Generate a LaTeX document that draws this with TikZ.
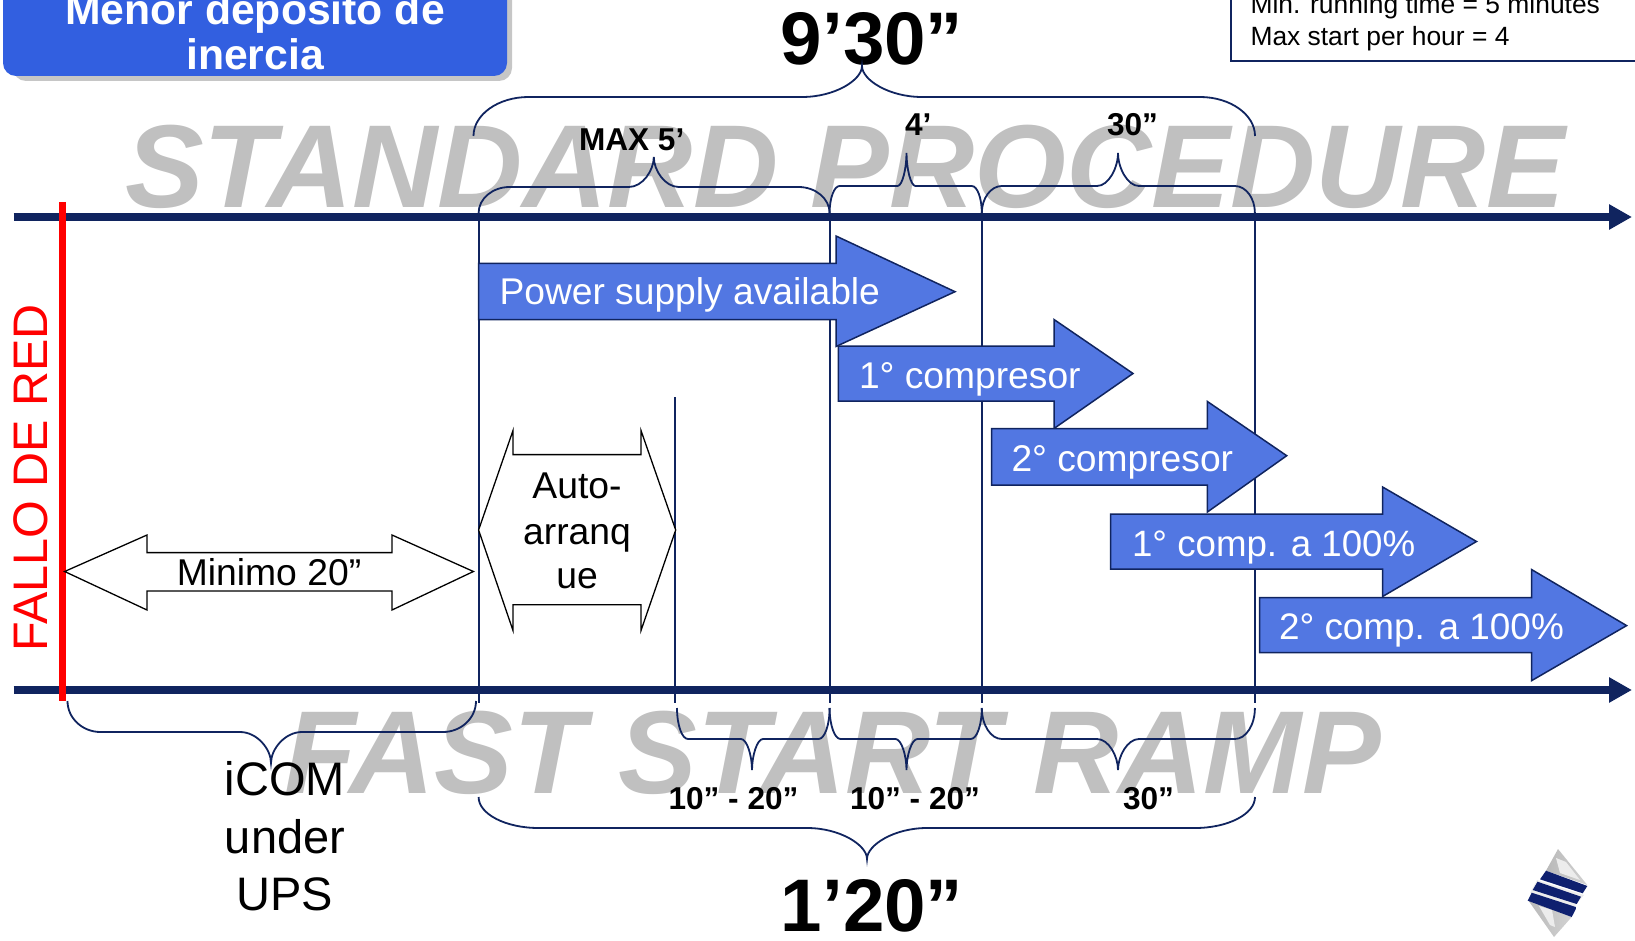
\documentclass[tikz,border=0pt]{standalone}
\usepackage{fontspec}
\setmainfont{Liberation Sans}
\usetikzlibrary{arrows.meta}
\definecolor{navy}{HTML}{10245F}
\definecolor{arrowblue}{HTML}{5277E2}
\definecolor{boxblue}{HTML}{325FE0}
\definecolor{wm}{HTML}{C0C0C0}
\newcommand{\fsz}[1]{\fontsize{#1}{#1}\selectfont}
\tikzset{
  txt/.style={inner sep=0pt,outer sep=0pt},
  lab/.style={txt,anchor=base west,font=\fsz{31.6}\bfseries},
  bigtot/.style={txt,anchor=base,font=\fsz{74.5}\bfseries},
  water/.style={txt,anchor=base west,text=wm,font=\fsz{118}\bfseries\itshape},
  arrowtext/.style={txt,anchor=base west,text=white,font=\fsz{37.2}},
  plaintxt/.style={txt,anchor=base,font=\fsz{37.3}},
  ups/.style={txt,anchor=base,font=\fsz{47}},
  axisline/.style={navy,line width=8.5pt,-{Triangle[length=23pt,width=24pt]}},
  guide/.style={navy,line width=1.8pt},
  blockarr/.style={fill=arrowblue,draw=navy,line width=1.5pt,line join=miter},
  outlined/.style={fill=white,draw=black,line width=1.3pt,line join=miter},
  logoband/.style={left color=navy!90!blue,middle color=blue!35!gray,right color=navy!90!blue},
  logogrey/.style={left color=gray!55,right color=gray!35},
}
% #1 left, #2 right, #3 middle, #4 base y, #5 flat y, #6 peak y, #7 corner r, #8 peak r
\newcommand{\mybrace}[8]{%
  \draw[guide] (#1,#4) .. controls (#1,{#4+0.55*(#5-#4)}) and ({#1+0.45*#7},#5) .. ({#1+#7},#5)
   -- ({#3-#8},#5) .. controls ({#3-0.45*#8},#5) and (#3,{#6+0.45*(#5-#6)}) .. (#3,#6)
   .. controls (#3,{#6+0.45*(#5-#6)}) and ({#3+0.45*#8},#5) .. ({#3+#8},#5)
   -- ({#2-#7},#5) .. controls ({#2-0.45*#7},#5) and (#2,{#4+0.55*(#5-#4)}) .. (#2,#4);}
% block arrow: #1 left, #2 head x, #3 tip x, #4 tip y, #5 head top, #6 head bottom, #7 body top, #8 body bottom
\newcommand{\blockarrow}[8]{%
  \draw[blockarr] (#1,#7) -- (#2,#7) -- (#2,#5) -- (#3,#4) -- (#2,#6) -- (#2,#8) -- (#1,#8) -- cycle;}
\begin{document}
\begin{tikzpicture}[x=1pt,y=-1pt]
\useasboundingbox (0,0) rectangle (1635,941);
\clip (0,0) rectangle (1635,941);

% watermarks
\node[water] (wmtop) at (125,208) {STANDARD PROCEDURE};
\node[water] (wmbot) at (284,793) {FAST START RAMP};

% title box
\fill[gray!45,rounded corners=13pt] (13,-30) rectangle (512,81);
\fill[boxblue,rounded corners=13pt] (3,-30) rectangle (507,76);
\node[txt,anchor=base,text=white,font=\fsz{42.7}\bfseries] (t1) at (255,25) {Menor depósito de};
\node[txt,anchor=base,text=white,font=\fsz{42.7}\bfseries] (t2) at (255,70) {inercia};

% info box
\draw[navy,line width=1.8pt] (1231,-20) -- (1231,61) -- (1660,61);
\node[txt,anchor=base west,font=\fsz{26.4}] (i1) at (1250.5,14) {Min. running time = 5 minutes};
\node[txt,anchor=base west,font=\fsz{26.4}] (i2) at (1250.5,46) {Max start per hour = 4};

% totals
\node[bigtot] (tot1) at (872,65) {9’30”};
\node[bigtot] (tot2) at (872,931) {1’20”};

% vertical guides
\draw[guide] (478.6,213) -- (478.6,703);
\draw[guide] (829.6,213) -- (829.6,703);
\draw[guide] (981.8,213) -- (981.8,703);
\draw[guide] (1254.9,213) -- (1254.9,703);
\draw[guide] (675,397) -- (675,703);

% axes
\coordinate (a1s) at (13.5,217); \coordinate (a1e) at (1632,217);
\coordinate (a2s) at (13.5,690); \coordinate (a2e) at (1632,690);
\draw[axisline] (a1s) -- (a1e);
\draw[axisline] (a2s) -- (a2e);
\draw[red,line width=7pt] (62,202) -- (62,701);

\node[txt,anchor=base,rotate=90,text=red,font=\fsz{48.5}] (fallo) at (47,478) {FALLO DE RED};

% top braces
\mybrace{473.5}{1255}{862}{136}{97}{66}{55}{60}
\mybrace{478.6}{829.6}{653.8}{213}{187}{157}{31}{25}
\mybrace{829.6}{981.8}{906.5}{213}{186}{153}{10}{9}
\mybrace{981.8}{1254.9}{1118}{213}{186}{153}{20}{21}
% bottom braces
\mybrace{67.5}{476}{271}{701}{732}{763}{33}{31}
\mybrace{677}{829.6}{752}{708}{739}{770}{11}{11}
\mybrace{829.6}{981.8}{906.5}{708}{739}{770}{11}{11}
\mybrace{981.8}{1254.9}{1118}{708}{739}{770}{20}{21}
\mybrace{478.6}{1255}{867}{797}{828}{859}{60}{60}

% labels
\node[lab] (l1) at (579,151) {MAX 5’};
\node[lab] (l2) at (905,136) {4’};
\node[lab] (l3) at (1107,136) {30”};
\node[lab] (l4) at (668.5,809) {10” - 20”};
\node[lab] (l5) at (850,809) {10” - 20”};
\node[lab] (l6) at (1123,809) {30”};
\node[ups] (u1) at (285,795) {iCOM};
\node[ups] (u2) at (285,853) {under};
\node[ups] (u3) at (285,910) {UPS};

% block arrows
\blockarrow{478.6}{836}{955}{291.7}{236}{346.5}{263.5}{319.5}
\blockarrow{838.3}{1054}{1133}{373.5}{319.5}{428.5}{346}{401}
\blockarrow{991.6}{1207.4}{1286.7}{455.7}{401.5}{512}{428.5}{485}
\blockarrow{1110.5}{1382.6}{1476.5}{541.5}{487}{596.5}{514}{569}
\blockarrow{1259.6}{1531.5}{1626.6}{625.6}{569.5}{680.7}{597.5}{652.7}
\node[arrowtext] (b1) at (499.5,304) {Power supply available};
\node[arrowtext] (b2) at (859,388) {1° compresor};
\node[arrowtext] (b3) at (1011.5,471) {2° compresor};
\node[arrowtext,font=\fsz{36.7}] (b4) at (1132,556) {1° comp. a 100\%};
\node[arrowtext,font=\fsz{36.9}] (b5) at (1279,639) {2° comp. a 100\%};

% double arrows
\draw[outlined] (64.6,571.5) -- (147,535) -- (147,552.6) -- (392,552.6) -- (392,535) -- (473.4,571.5) -- (392,610) -- (392,591) -- (147,591) -- (147,610) -- cycle;
\node[plaintxt] (min) at (269,585) {Minimo 20”};
\draw[outlined] (478.6,530) -- (513,430.5) -- (513,454.6) -- (641,454.6) -- (641,430.5) -- (675.7,530) -- (641,630.5) -- (641,604.8) -- (513,604.8) -- (513,630.5) -- cycle;
\node[plaintxt] (au1) at (577,498.4) {Auto-};
\node[plaintxt] (au2) at (577,544) {arranq};
\node[plaintxt] (au3) at (577,588) {ue};

% logo
\shade[logogrey] (1558,849) -- (1587.3,885) -- (1546,870.7) -- cycle;
\fill[white!85!gray] (1556,858) -- (1566,862) -- (1580,880) -- (1560,873) -- cycle;
\shade[logogrey] (1528,900) -- (1571.7,917) -- (1554,937) -- cycle;
\fill[white!85!gray] (1539,906) -- (1552,910) -- (1555,927) -- (1550,925) -- cycle;
\fill[gray!15] (1537,880) -- (1584,895) -- (1574,907) -- (1530,893) -- cycle;
\shade[logoband] (1546,870.7) -- (1587.3,886) -- (1582.7,893.3) -- (1540,879.3) -- cycle;
\shade[logoband] (1537.5,881.7) -- (1581,896.7) -- (1576.7,904) -- (1532.7,890) -- cycle;
\shade[logoband] (1531.7,892.7) -- (1576.7,907.3) -- (1571.7,917) -- (1527.7,900.7) -- cycle;
\end{tikzpicture}
\end{document}
